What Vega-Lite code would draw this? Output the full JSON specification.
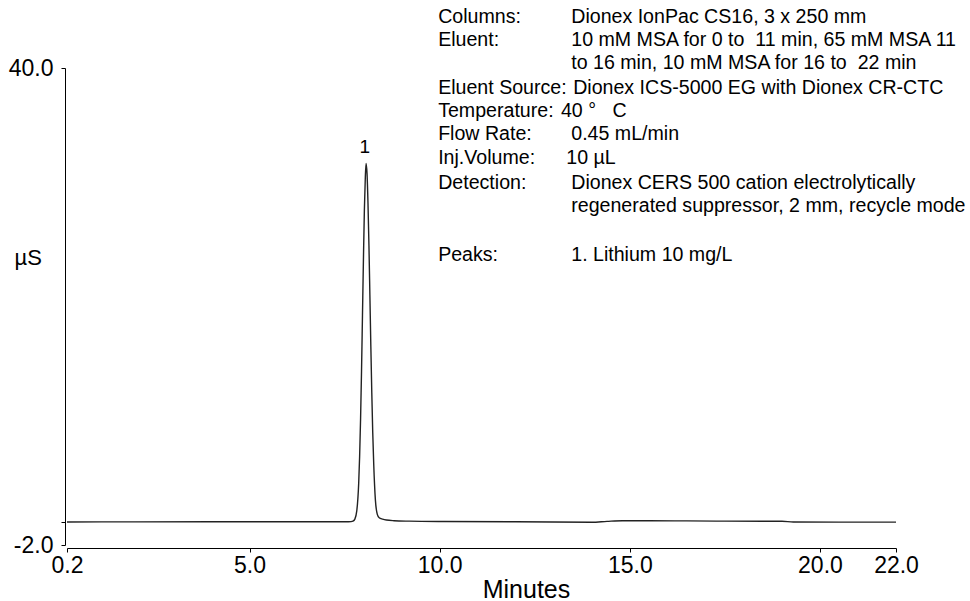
{
  "$schema": "https://vega.github.io/schema/vega-lite/v6.json",
  "width": 829,
  "height": 477,
  "autosize": {"type": "none"},
  "padding": {"left": 67, "top": 68, "right": 74, "bottom": 56},
  "background": "white",
  "config": {
    "view": {"stroke": null},
    "font": "Liberation Sans",
    "axis": {"grid": false, "domainColor": "#000", "tickColor": "#000", "labelColor": "#000", "titleColor": "#000", "labelFont": "Liberation Sans", "titleFont": "Liberation Sans", "titleFontWeight": "normal"}
  },
  "datasets": {
    "trace": [
      {"time": 0.2, "signal": 0.03},
      {"time": 2.0, "signal": 0.04},
      {"time": 4.0, "signal": 0.05},
      {"time": 6.0, "signal": 0.05},
      {"time": 7.0, "signal": 0.05},
      {"time": 7.6, "signal": 0.05},
      {"time": 7.67, "signal": 0.06},
      {"time": 7.72, "signal": 0.1},
      {"time": 7.77, "signal": 0.28},
      {"time": 7.82, "signal": 1.0},
      {"time": 7.87, "signal": 3.4},
      {"time": 7.895, "signal": 5.8},
      {"time": 7.92, "signal": 9.1},
      {"time": 7.945, "signal": 13.3},
      {"time": 7.97, "signal": 18.2},
      {"time": 7.995, "signal": 23.1},
      {"time": 8.02, "signal": 27.5},
      {"time": 8.045, "signal": 30.4},
      {"time": 8.065, "signal": 31.6},
      {"time": 8.09, "signal": 30.7},
      {"time": 8.115, "signal": 28.1},
      {"time": 8.14, "signal": 24.4},
      {"time": 8.165, "signal": 20.0},
      {"time": 8.19, "signal": 15.5},
      {"time": 8.215, "signal": 11.4},
      {"time": 8.24, "signal": 7.9},
      {"time": 8.265, "signal": 5.2},
      {"time": 8.31, "signal": 1.95},
      {"time": 8.36, "signal": 0.7},
      {"time": 8.41, "signal": 0.4},
      {"time": 8.5, "signal": 0.28},
      {"time": 8.6, "signal": 0.2},
      {"time": 8.8, "signal": 0.14},
      {"time": 9.2, "signal": 0.1},
      {"time": 10.0, "signal": 0.07},
      {"time": 12.0, "signal": 0.05},
      {"time": 14.0, "signal": 0.0},
      {"time": 14.4, "signal": 0.08},
      {"time": 14.8, "signal": 0.14},
      {"time": 15.5, "signal": 0.14},
      {"time": 16.5, "signal": 0.12},
      {"time": 17.5, "signal": 0.1},
      {"time": 19.0, "signal": 0.09},
      {"time": 19.3, "signal": 0.03},
      {"time": 20.5, "signal": 0.01},
      {"time": 22.0, "signal": 0.01}
    ],
    "peaks": [
      {"time": 8.03, "signal": 33.04, "label": "1"}
    ],
    "notes": [
      {"time": 9.96, "signal": 44.49, "text": "Columns:"},
      {"time": 13.46, "signal": 44.49, "text": "Dionex IonPac CS16, 3 x 250 mm"},
      {"time": 9.96, "signal": 42.47, "text": "Eluent:"},
      {"time": 13.46, "signal": 42.47, "text": "10 mM MSA for 0 to \u00a011 min, 65 mM MSA 11"},
      {"time": 13.46, "signal": 40.44, "text": "to 16 min, 10 mM MSA for 16 to \u00a022 min"},
      {"time": 9.96, "signal": 38.24, "text": "Eluent Source:"},
      {"time": 13.51, "signal": 38.24, "text": "Dionex ICS-5000 EG with Dionex CR-CTC"},
      {"time": 9.96, "signal": 36.21, "text": "Temperature:"},
      {"time": 13.19, "signal": 36.21, "text": "40 °\u00a0\u00a0 C"},
      {"time": 9.96, "signal": 34.19, "text": "Flow Rate:"},
      {"time": 13.46, "signal": 34.19, "text": "0.45 mL/min"},
      {"time": 9.96, "signal": 32.08, "text": "Inj.Volume:"},
      {"time": 13.33, "signal": 32.08, "text": "10 µL"},
      {"time": 9.96, "signal": 29.87, "text": "Detection:"},
      {"time": 13.46, "signal": 29.87, "text": "Dionex CERS 500 cation electrolytically"},
      {"time": 13.46, "signal": 27.85, "text": "regenerated suppressor, 2 mm, recycle mode"},
      {"time": 9.96, "signal": 23.53, "text": "Peaks:"},
      {"time": 13.46, "signal": 23.53, "text": "1. Lithium 10 mg/L"}
    ]
  },
  "encoding": {
    "x": {
      "field": "time", "type": "quantitative",
      "scale": {"domain": [0.2, 22.0], "nice": false, "zero": false},
      "axis": {
        "values": [0.2, 5, 10, 15, 20, 22],
        "format": ".1f",
        "title": "Minutes",
        "offset": 3,
        "tickSize": 4,
        "labelFontSize": 23,
        "labelPadding": 2,
        "labelFlush": false,
        "labelOverlap": false,
        "titleFontSize": 25,
        "titleX": 459,
        "titleY": 49,
        "titleAnchor": null,
        "titleAlign": "center",
        "titleBaseline": "alphabetic"
      }
    },
    "y": {
      "field": "signal", "type": "quantitative",
      "scale": {"domain": [-2, 40], "nice": false, "zero": false},
      "axis": {
        "values": [-2, 0, 40],
        "labelExpr": "datum.value == 0 ? '' : replace(format(datum.value, '.1f'), '\u2212', '-')",
        "title": "µS",
        "offset": 2,
        "tickSize": 4,
        "labelFontSize": 23,
        "labelPadding": 8,
        "labelFlush": false,
        "labelOverlap": false,
        "labelBaseline": "middle",
        "titleFontSize": 22,
        "titleAngle": 0,
        "titleAlign": "left",
        "titleBaseline": "middle",
        "titleX": -51,
        "titleY": 189
      }
    }
  },
  "layer": [
    {
      "data": {"name": "trace"},
      "mark": {"type": "line", "color": "#222", "strokeWidth": 1.4, "interpolate": "monotone", "clip": true}
    },
    {
      "data": {"name": "peaks"},
      "mark": {"type": "text", "fontSize": 19, "align": "center", "baseline": "middle", "color": "#000"},
      "encoding": {"text": {"field": "label"}}
    },
    {
      "data": {"name": "notes"},
      "mark": {"type": "text", "fontSize": 19.6, "align": "left", "baseline": "middle", "color": "#000"},
      "encoding": {"text": {"field": "text"}}
    }
  ]
}
